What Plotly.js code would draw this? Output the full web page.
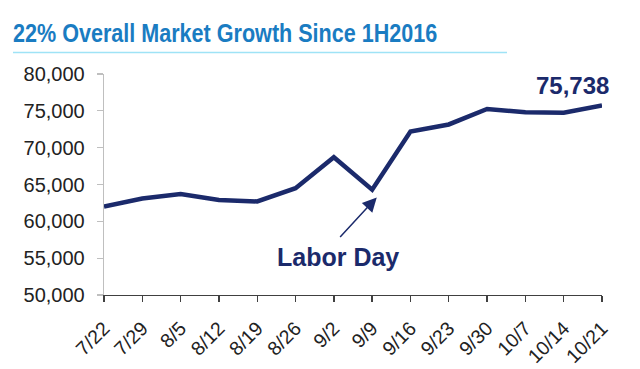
<!DOCTYPE html>
<html>
<head>
<meta charset="utf-8">
<script src="https://cdn.plot.ly/plotly-3.0.1.min.js"></script>
<style>
html,body{margin:0;padding:0;background:#fff;}
#chart{width:640px;height:369px;}
</style>
</head>
<body>
<div id="chart"></div>
<script>
var weeks = ["7/22","7/29","8/5","8/12","8/19","8/26","9/2","9/9","9/16","9/23","9/30","10/7","10/14","10/21"];
var marketValues = [62000,63100,63700,62900,62700,64500,68700,64300,72200,73150,75250,74800,74750,75738];
var yTicks = [50000,55000,60000,65000,70000,75000,80000];
var titleText = "22% Overall Market Growth Since 1H2016";
var lastLabel = "75,738";
var eventLabel = "Labor Day";
var eventWeek = "9/9";

var navy = "#1b2a6b";
var L = 104, R = 38, T = 74, B = 74;
var plotW = 640 - L - R, plotH = 369 - T - B;
function px2paperX(px){ return (px - L) / plotW; }
function px2paperY(py){ return (369 - B - py) / plotH; }

var trace = {
  x: weeks,
  y: marketValues,
  type: "scatter",
  mode: "lines",
  line: {color: navy, width: 4.5},
  hoverinfo: "skip"
};

var idx = weeks.indexOf(eventWeek);
var lastIdx = weeks.length - 1;

var layout = {
  width: 640, height: 369,
  margin: {l: L, r: R, t: T, b: B, pad: 0},
  paper_bgcolor: "#ffffff",
  plot_bgcolor: "#ffffff",
  showlegend: false,
  title: {
    text: "<b>" + titleText + "</b>",
    font: {family: "Liberation Sans, Arial, sans-serif", size: 26, color: "#1a7cc2"},
    xref: "container", yref: "container",
    x: 13/640, xanchor: "left",
    y: 1 - 33/369, yanchor: "middle"
  },
  xaxis: {
    type: "category",
    range: [0, weeks.length - 1],
    showgrid: false, zeroline: false,
    showline: true, linecolor: "#404040", linewidth: 1.3,
    ticks: "outside", ticklen: 6, tickcolor: "#404040", tickwidth: 1.3,
    tickangle: -45,
    ticklabelstandoff: 7,
    tickfont: {family: "Liberation Sans, Arial, sans-serif", size: 19.5, color: "#222"}
  },
  yaxis: {
    range: [50000, 80000],
    tickvals: yTicks,
    tickformat: ",d",
    showgrid: false, zeroline: false,
    showline: true, linecolor: "#bfbfbf", linewidth: 1.3,
    ticks: "outside", ticklen: 6, tickcolor: "#bfbfbf", tickwidth: 1.3,
    ticklabelstandoff: 8,
    tickfont: {family: "Liberation Sans, Arial, sans-serif", size: 20, color: "#222"}
  },
  shapes: [{
    type: "line", xref: "paper", yref: "paper",
    x0: px2paperX(13), x1: px2paperX(507),
    y0: px2paperY(52.5), y1: px2paperY(52.5),
    line: {color: "#9fe3f6", width: 1.5}
  }],
  annotations: [
    {
      x: lastIdx - 0.77, y: marketValues[lastIdx], xref: "x", yref: "y",
      text: "<b>" + lastLabel + "</b>", showarrow: false,
      yshift: 20,
      font: {family: "Liberation Sans, Arial, sans-serif", size: 24, color: navy}
    },
    {
      x: idx + 0.12, y: 63250, xref: "x", yref: "y",
      ax: -38, ay: 41,
      text: "", showarrow: true,
      arrowhead: 2, arrowsize: 1.9, arrowwidth: 1.5, arrowcolor: navy
    },
    {
      x: idx - 0.88, y: 55100, xref: "x", yref: "y",
      text: "<b>" + eventLabel + "</b>", showarrow: false,
      font: {family: "Liberation Sans, Arial, sans-serif", size: 25, color: navy}
    }
  ]
};

Plotly.newPlot("chart", [trace], layout, {displayModeBar: false, staticPlot: true}).then(function(gd){
  // condense the title horizontally like the reference's narrow bold face
  var t = gd.querySelector("text.gtitle");
  if (t) {
    var x0 = 13;
    var prev = t.getAttribute("transform") || "";
    t.setAttribute("transform", prev + " translate(" + x0 + ",0) scale(0.83,1) translate(" + (-x0) + ",0)");
  }
});
</script>
</body>
</html>
